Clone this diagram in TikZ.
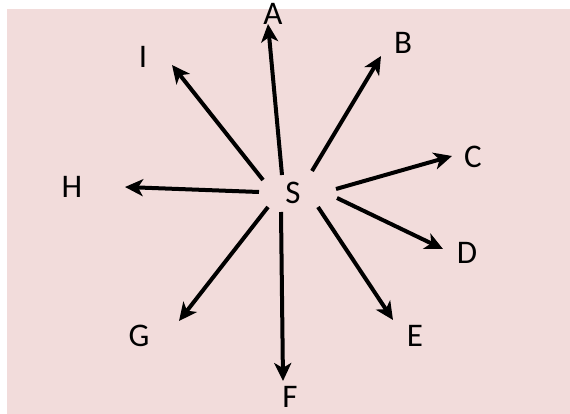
\documentclass[tikz,border=0pt]{standalone}
\usepackage{fontspec}
\setmainfont{Carlito}
\usetikzlibrary{arrows.meta}
\definecolor{bgpink}{HTML}{F2DCDB}
\begin{document}
\begin{tikzpicture}[x=1pt,y=-1pt,
  lbl/.style={anchor=base,inner sep=0pt,font=\fontsize{33}{36}\selectfont},
  arr/.style={line width=4pt,-{Stealth[length=18pt,width=17pt,inset=5pt]}}]
\useasboundingbox (0,0) rectangle (570,414);
\fill[bgpink] (7,9) rectangle (570,414);
% labels
\node[lbl] (S) at (293,204) {S};
\node[lbl] (A) at (273,25) {A};
\node[lbl] (B) at (403,54) {B};
\node[lbl] (C) at (473,168) {C};
\node[lbl] (D) at (467,263) {D};
\node[lbl] (E) at (415,346) {E};
\node[lbl] (F) at (290,407) {F};
\node[lbl] (G) at (139,346) {G};
\node[lbl] (H) at (72,198) {H};
\node[lbl] (I) at (143,68) {I};
% arrow ends
\coordinate (sA) at (282,175); \coordinate (tA) at (268,24);
\coordinate (sB) at (312,171); \coordinate (tB) at (381,56);
\coordinate (sC) at (336,189); \coordinate (tC) at (452,156);
\coordinate (sD) at (337,198); \coordinate (tD) at (443,249);
\coordinate (sE) at (318,207); \coordinate (tE) at (393,320);
\coordinate (sF) at (281,212); \coordinate (tF) at (283,381);
\coordinate (sG) at (268,207); \coordinate (tG) at (179,321);
\coordinate (sH) at (259,192); \coordinate (tH) at (125,187);
\coordinate (sI) at (263,180); \coordinate (tI) at (172,65);
\foreach \k in {A,B,C,D,E,F,G,H,I}{
  \draw[arr] (s\k) -- (t\k);
}
\end{tikzpicture}
\end{document}
